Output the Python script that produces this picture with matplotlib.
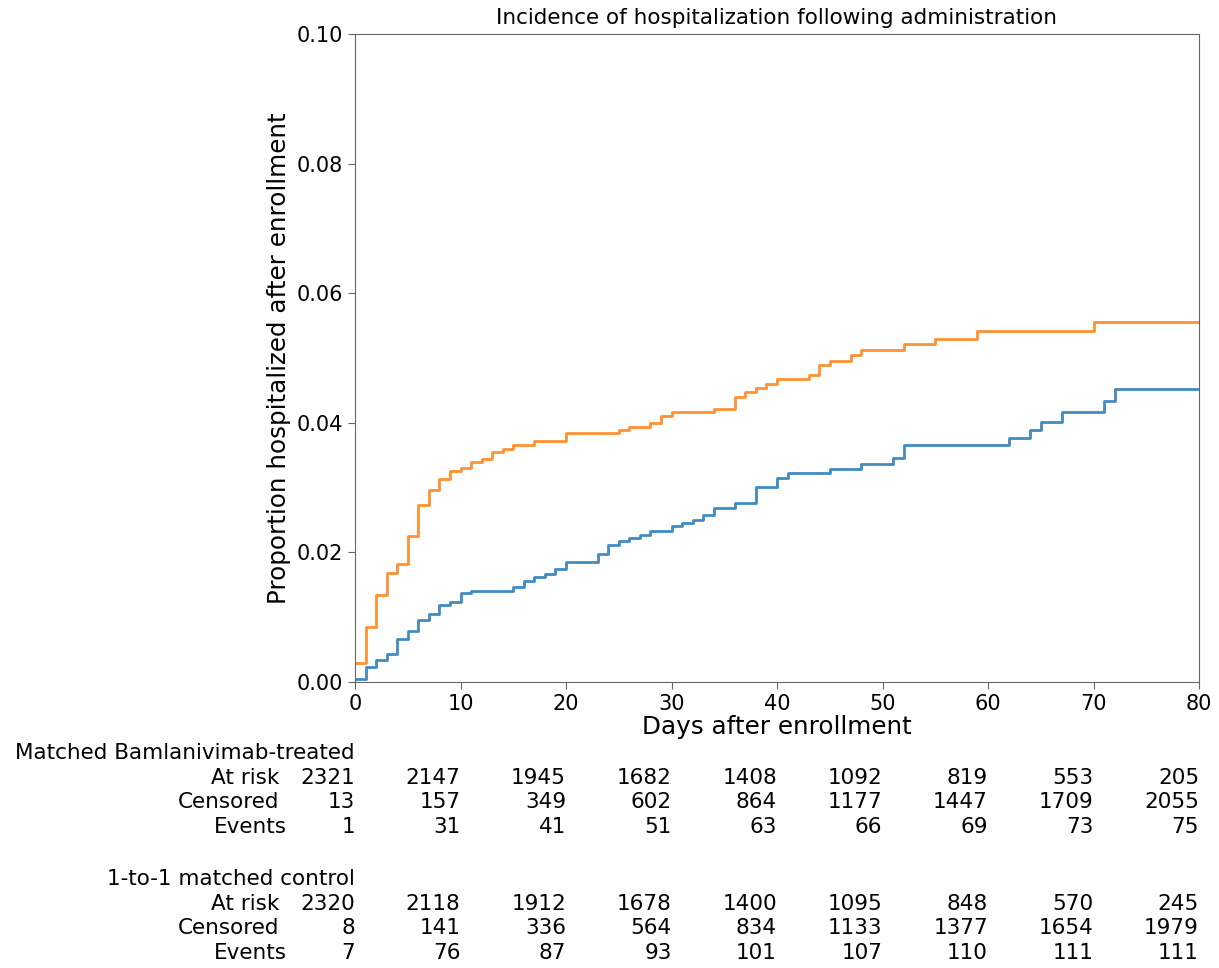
import matplotlib
matplotlib.use('Agg')
from matplotlib import pyplot as plt

# 累积住院比例（阶梯曲线）
days_treated = [0, 1, 2, 3, 4, 5, 6, 7, 8, 9, 10, 11, 15, 16, 17, 18, 19, 20,
                23, 24, 25, 26, 27, 28, 30, 31, 32, 33, 34, 36, 38, 40, 41,
                45, 48, 51, 52, 62, 64, 65, 67, 71, 72, 80]
treated = [0.0005, 0.0023, 0.0034, 0.0043, 0.0066, 0.0079, 0.0096, 0.0105,
           0.0119, 0.0123, 0.0137, 0.0141, 0.0146, 0.0156, 0.0162, 0.0166,
           0.0175, 0.0185, 0.0198, 0.0212, 0.0217, 0.0222, 0.0227, 0.0233,
           0.0240, 0.0246, 0.0250, 0.0257, 0.0268, 0.0276, 0.0301, 0.0315,
           0.0322, 0.0329, 0.0337, 0.0346, 0.0365, 0.0376, 0.0389, 0.0402,
           0.0416, 0.0434, 0.0452, 0.0452]

days_control = [0, 1, 2, 3, 4, 5, 6, 7, 8, 9, 10, 11, 12, 13, 14, 15, 17, 20,
                25, 26, 28, 29, 30, 34, 36, 37, 38, 39, 40, 43, 44, 45, 47, 48,
                52, 55, 59, 70, 80]
control = [0.0030, 0.0085, 0.0135, 0.0168, 0.0182, 0.0226, 0.0273, 0.0296,
           0.0313, 0.0326, 0.0331, 0.0340, 0.0344, 0.0355, 0.0360, 0.0365,
           0.0372, 0.0385, 0.0389, 0.0394, 0.0400, 0.0411, 0.0416, 0.0422,
           0.0440, 0.0447, 0.0454, 0.0460, 0.0467, 0.0474, 0.0489, 0.0496,
           0.0505, 0.0512, 0.0521, 0.0529, 0.0541, 0.0556, 0.0556]

# 风险表
table_times = [0, 10, 20, 30, 40, 50, 60, 70, 80]
treated_label = 'Matched Bamlanivimab-treated'
treated_at_risk = [2321, 2147, 1945, 1682, 1408, 1092, 819, 553, 205]
treated_censored = [13, 157, 349, 602, 864, 1177, 1447, 1709, 2055]
treated_events = [1, 31, 41, 51, 63, 66, 69, 73, 75]
control_label = '1-to-1 matched control'
control_at_risk = [2320, 2118, 1912, 1678, 1400, 1095, 848, 570, 245]
control_censored = [8, 141, 336, 564, 834, 1133, 1377, 1654, 1979]
control_events = [7, 76, 87, 93, 101, 107, 110, 111, 111]
row_names = ['At risk', 'Censored', 'Events']

W, H = 1219, 968
fig = plt.figure(figsize=(W / 100, H / 100), dpi=100)
fig.subplots_adjust(left=355 / W, right=1199 / W, top=1 - 34 / H, bottom=1 - 682 / H)
ax = fig.add_subplot(111)

ax.step(days_treated, treated, where='post', color='#1f77b4', lw=2, alpha=0.85)
ax.step(days_control, control, where='post', color='#ff7f0e', lw=2, alpha=0.85)

ax.set_xlim(0, 80)
ax.set_ylim(0, 0.10)
ax.set_yticks([0.0, 0.02, 0.04, 0.06, 0.08, 0.10])
ax.set_xticks(table_times)
ax.tick_params(labelsize=15, length=5, color='0.4')
for s in ax.spines.values():
    s.set_color('0.4')
ax.set_title('Incidence of hospitalization following administration', fontsize=15.5, pad=7)
ax.set_xlabel('Days after enrollment', fontsize=17.7, labelpad=1)
ax.set_ylabel('Proportion hospitalized after enrollment', fontsize=17.7)

fs = 15.5


def put_block(label, rows, y_head):
    ax.annotate(label, xy=(0, H - y_head), xycoords=('data', 'figure pixels'),
                ha='right', va='center', fontsize=fs, annotation_clip=False)
    for k, (name, vals) in enumerate(zip(row_names, rows)):
        y = H - (y_head + 24.7 * (k + 1))
        nx = 279 if name != 'Events' else 287
        ax.annotate(name, xy=(nx, y), xycoords='figure pixels',
                    ha='right', va='center', fontsize=fs)
        for t, v in zip(table_times, vals):
            ax.annotate(str(v), xy=(t, y), xycoords=('data', 'figure pixels'),
                        ha='right', va='center', fontsize=fs, annotation_clip=False)


put_block(treated_label, [treated_at_risk, treated_censored, treated_events], 753)
put_block(control_label, [control_at_risk, control_censored, control_events], 879)

fig.savefig('out.png', dpi=100)
